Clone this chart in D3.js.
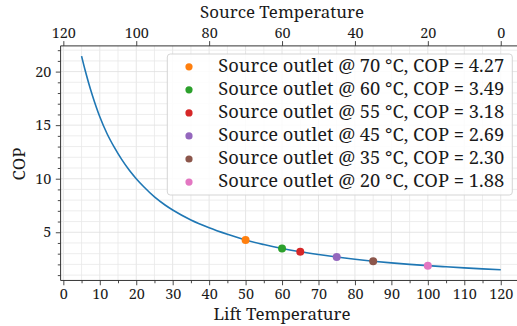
<!DOCTYPE html>
<html><head><meta charset="utf-8">
<script src="https://cdn.jsdelivr.net/npm/d3@7"></script>
<style>
body{margin:0;background:#fff;}
svg{display:block;}
</style></head>
<body><svg id="c" width="517" height="326"></svg>
<script>
// Curve: lift temperature vs COP
const liftValues = [5,6,7,8,9,10,12,14,16,18,20,22,25,28,30,35,40,45,50,55,60,65,70,75,80,85,90,95,100,105,110,115,120];
const copValues  = [21.45,20.1,18.87,17.75,16.72,15.78,14.2,12.92,11.8,10.83,10.0,9.27,8.3,7.52,7.08,6.15,5.43,4.82,4.27,3.85,3.49,3.18,2.92,2.69,2.48,2.30,2.14,2.00,1.88,1.775,1.675,1.585,1.50];
// Highlighted operating points
const pointSource = [70,60,55,45,35,20];
const pointLift   = [50,60,65,75,85,100];
const pointCOP    = [4.27,3.49,3.18,2.69,2.30,1.88];
const pointColors = ["#ff7f0e","#2ca02c","#d62728","#9467bd","#8c564b","#e377c2"];
const bottomTicks = [0,10,20,30,40,50,60,70,80,90,100,110,120];
const topTicks = [120,100,80,60,40,20,0];
const yTicks = [5,10,15,20];

const FONT = '"Noto Serif","Liberation Serif",serif';
const TXT = "#1a1a1a";
const svg = d3.select("#c").attr("font-family",FONT);
const L = 60.6, R = 521.7, T = 45.9, B = 280.45;
const x = d3.scaleLinear().domain([-0.75,125.75]).range([L,R]);
const xTop = d3.scaleLinear().domain([120.75,-5.75]).range([L,R]);
const y = d3.scaleLinear().domain([0.5,22.4]).range([B,T]);

// measure a string to get font size giving a target width
function fitSize(str, target, base){
  const t = svg.append("text").attr("font-size",base).text(str);
  const w = t.node().getComputedTextLength();
  t.remove();
  return base*target/w;
}
const tickFs = fitSize("120", 24.2, 13);
const labFs = fitSize("Source Temperature", 164, 15);
const legFs = fitSize("Source outlet @ 70 °C, COP = 4.27", 286, 14.5);

// grid
const g = svg.append("g");
d3.range(0,126,5).forEach(v=>{
  g.append("line").attr("x1",x(v)).attr("x2",x(v)).attr("y1",T).attr("y2",B)
   .attr("stroke", v%10===0?"#dedede":"#e8e8e8").attr("stroke-width",0.8);
});
d3.range(1,23,1).forEach(v=>{
  g.append("line").attr("x1",L).attr("x2",R).attr("y1",y(v)).attr("y2",y(v))
   .attr("stroke", v%5===0?"#dedede":"#e8e8e8").attr("stroke-width",0.8);
});

// curve
const line = d3.line().x((d,i)=>x(liftValues[i])).y(d=>y(d)).curve(d3.curveMonotoneX);
svg.append("path").datum(copValues).attr("d",line).attr("fill","none")
  .attr("stroke","#1f77b4").attr("stroke-width",1.6);

// points
pointLift.forEach((v,i)=>{
  svg.append("circle").attr("cx",x(v)).attr("cy",y(pointCOP[i])).attr("r",4)
    .attr("fill",pointColors[i]);
});

// axes
const axB = svg.append("g").attr("transform",`translate(0,${B})`)
  .call(d3.axisBottom(x).tickValues(bottomTicks).tickSize(4.8).tickPadding(3.5));
const axBm = svg.append("g").attr("transform",`translate(0,${B})`)
  .call(d3.axisBottom(x).tickValues(d3.range(5,125,10)).tickSize(2.8).tickFormat(""));
const axT = svg.append("g").attr("transform",`translate(0,${T})`)
  .call(d3.axisTop(xTop).tickValues(topTicks).tickSize(4.8).tickPadding(3.5));
const axL = svg.append("g").attr("transform",`translate(${L},0)`)
  .call(d3.axisLeft(y).tickValues(yTicks).tickSize(4.8).tickPadding(4.5));
const axLm = svg.append("g").attr("transform",`translate(${L},0)`)
  .call(d3.axisLeft(y).tickValues(d3.range(1,23).filter(v=>v%5!==0)).tickSize(2.8).tickFormat(""));
[axB,axBm,axT,axL,axLm].forEach(a=>{
  a.attr("font-family",FONT);
  a.selectAll("path.domain").remove();
  a.selectAll(".tick line").attr("stroke","#333").attr("stroke-width",0.9);
  a.selectAll("text").attr("font-size",tickFs).attr("fill",TXT);
});
// spines
svg.append("line").attr("x1",L).attr("x2",R).attr("y1",B).attr("y2",B).attr("stroke","#333").attr("stroke-width",1);
svg.append("line").attr("x1",L).attr("x2",R).attr("y1",T).attr("y2",T).attr("stroke","#333").attr("stroke-width",1);
svg.append("line").attr("x1",L).attr("x2",L).attr("y1",T).attr("y2",B).attr("stroke","#333").attr("stroke-width",1);

// axis labels
svg.append("text").attr("x",x(60)).attr("y",320).attr("text-anchor","middle")
  .attr("font-size",labFs).attr("fill",TXT).text("Lift Temperature");
svg.append("text").attr("x",x(60)).attr("y",18).attr("text-anchor","middle")
  .attr("font-size",labFs).attr("fill",TXT).text("Source Temperature");
svg.append("text").attr("transform",`translate(25,164) rotate(-90)`).attr("text-anchor","middle")
  .attr("font-size",labFs).attr("fill",TXT).text("COP");

// legend
const lg = svg.append("g");
lg.append("rect").attr("x",167.3).attr("y",54).attr("width",345).attr("height",141)
  .attr("rx",3).attr("fill","#fff").attr("fill-opacity",0.85).attr("stroke","#d0d0d0").attr("stroke-width",0.9);
pointSource.forEach((s,i)=>{
  const cy = 66.8 + i*23.05;
  lg.append("circle").attr("cx",189).attr("cy",cy).attr("r",3.6).attr("fill",pointColors[i]);
  lg.append("text").attr("x",218.3).attr("y",cy+4.8).attr("font-size",legFs).attr("fill",TXT)
    .text(`Source outlet @ ${s} °C, COP = ${pointCOP[i].toFixed(2)}`);
});
</script></body></html>
